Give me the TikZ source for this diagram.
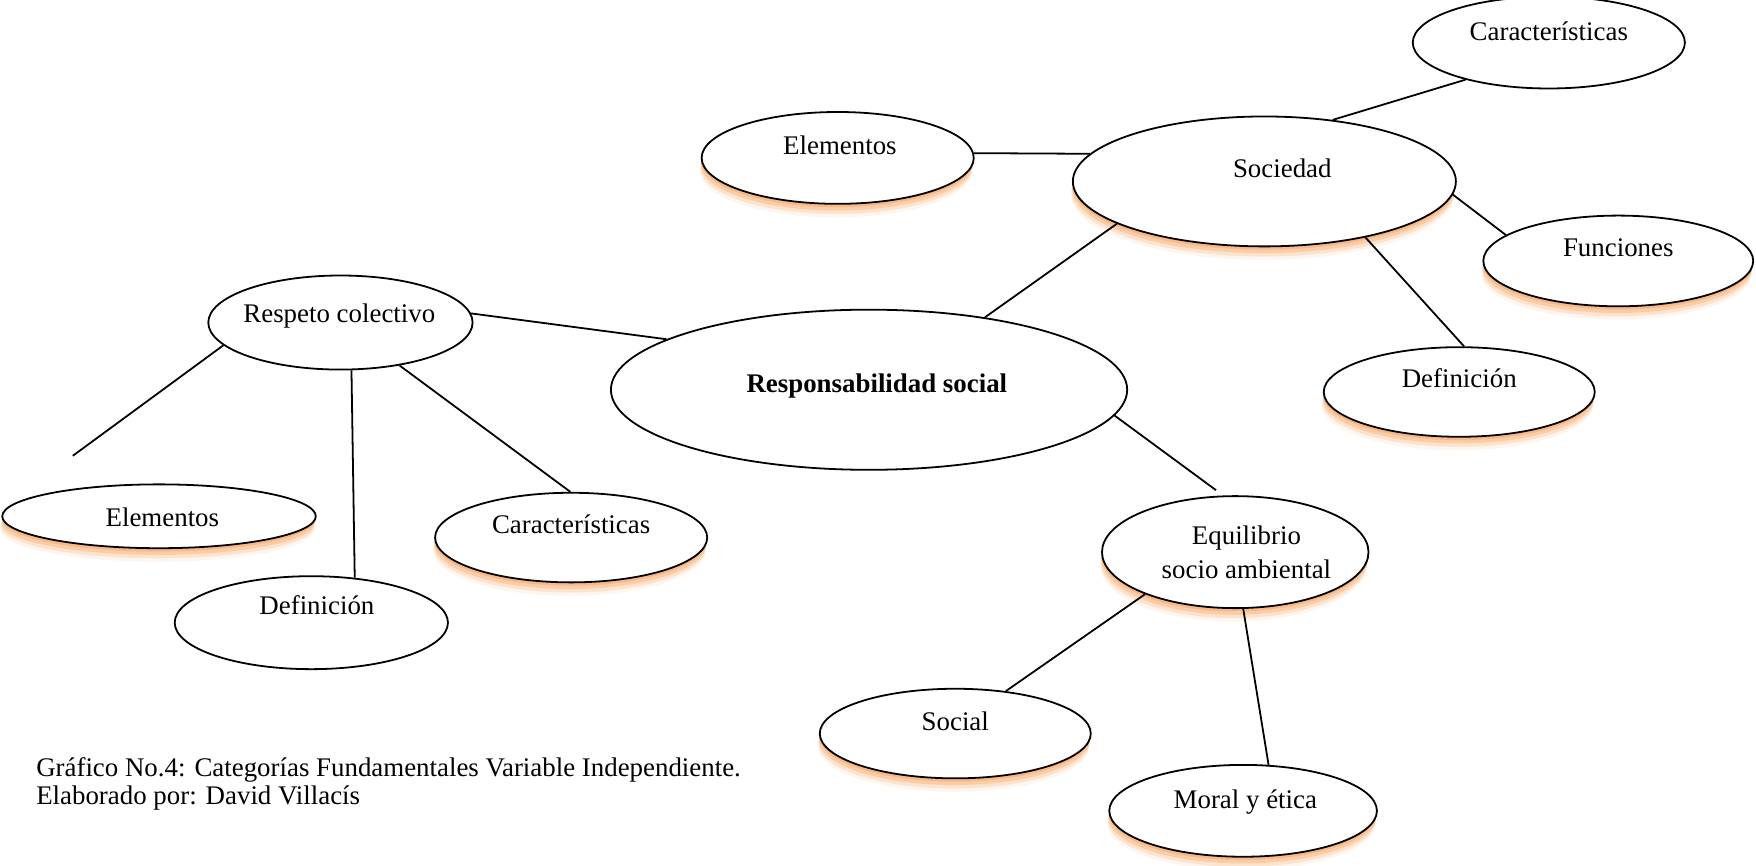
\documentclass[tikz,border=0pt]{standalone}
\usepackage{fontspec}
\setmainfont{Liberation Serif}
\usetikzlibrary{shapes.geometric,shadows}
\definecolor{naranja}{RGB}{247,172,112}
\tikzset{burbuja/.style={ellipse,draw,fill=white,line width=0.8pt,inner sep=0pt},
         sombra/.style={drop shadow={shadow xshift=-0.8pt,shadow yshift=-6pt,fill=naranja,opacity=.12},
                        drop shadow={shadow xshift=-0.6pt,shadow yshift=-4.5pt,fill=naranja,opacity=.25},
                        drop shadow={shadow xshift=-0.4pt,shadow yshift=-3pt,fill=naranja,opacity=.4},
                        drop shadow={shadow xshift=-0.2pt,shadow yshift=-1.5pt,fill=naranja,opacity=.6}},
         texto/.style={inner sep=0pt,align=center},
         enlace/.style={line width=0.8pt}}

\begin{document}
\begin{tikzpicture}[x=0.5pt,y=-0.5pt,font=\fontsize{12}{15}\selectfont]
                      \useasboundingbox (0,0) rectangle (1568,773);
                      % centro
                      \node[burbuja,minimum width=230.5pt,minimum height=71.5pt] (rs) at (776,348) {};
                      \node[texto,font=\fontsize{12}{15}\selectfont\bfseries] (rsTxt) at (783,345) {Responsabilidad social};
                      % sociedad
                      \node[burbuja,sombra,minimum width=171pt,minimum height=58pt] (soc) at (1129,162) {};
                      \node[texto] (socTxt) at (1145,150) {Sociedad};
                      \node[burbuja,minimum width=121.5pt,minimum height=41pt] (socCar) at (1383,38) {};
                      \node[texto] (socCarTxt) at (1383,28) {Características};
                      \node[burbuja,sombra,minimum width=121.5pt,minimum height=41pt] (socElem) at (748,141) {};
                      \node[texto] (socElemTxt) at (750,130) {Elementos};
                      \node[burbuja,sombra,minimum width=120.5pt,minimum height=40.5pt] (socFun) at (1445,233) {};
                      \node[texto] (socFunTxt) at (1445,221) {Funciones};
                      \node[burbuja,sombra,minimum width=121pt,minimum height=40pt] (socDef) at (1303,350) {};
                      \node[texto] (socDefTxt) at (1303,338) {Definición};
                      % respeto colectivo
                      \node[burbuja,minimum width=118pt,minimum height=42pt] (resp) at (304,288) {};
                      \node[texto] (respTxt) at (303,282) {Respeto colectivo};
                      \node[burbuja,sombra,minimum width=140pt,minimum height=28.5pt] (respElem) at (142,461) {};
                      \node[texto] (respElemTxt) at (145,462) {Elementos};
                      \node[burbuja,minimum width=122pt,minimum height=41.5pt] (respDef) at (278,556) {};
                      \node[texto] (respDefTxt) at (283,540) {Definición};
                      \node[burbuja,sombra,minimum width=121.5pt,minimum height=40pt] (respCar) at (510,480) {};
                      \node[texto] (respCarTxt) at (510,468) {Características};
                      \coordinate (respLibre) at (65,407);
                      % equilibrio
                      \node[burbuja,sombra,minimum width=119pt,minimum height=50pt] (eq) at (1103,493) {};
                      \node[texto] (eqTxt) at (1113,493) {Equilibrio\\socio ambiental};
                      \node[burbuja,sombra,minimum width=121pt,minimum height=40pt] (eqSoc) at (853,655) {};
                      \node[texto] (eqSocTxt) at (853,644) {Social};
                      \node[burbuja,sombra,minimum width=119.5pt,minimum height=41pt] (eqMor) at (1110,724) {};
                      \node[texto] (eqMorTxt) at (1112,716) {Moral y ética};
                      % lineas
                      \draw[enlace] (socCar.204) -- (soc.42);
                      \draw[enlace] (socElem.2) -- (soc.171);
                      \draw[enlace] (soc.-4) -- (socFun.167);
                      \draw[enlace] (soc.-29) -- (socDef.84);
                      \draw[enlace] (soc.196) -- (rs.32);
                      \draw[enlace,shorten >=4pt] (rs.-6) -- (eq.102);
                      \draw[enlace] (resp.4) -- (rs.166);
                      \draw[enlace] (resp.191) -- (respLibre);
                      \draw[enlace] (resp.-77) -- (respDef.46);
                      \draw[enlace] (resp.-36) -- (respCar.91);
                      \draw[enlace] (eq.205) -- (eqSoc.40);
                      \draw[enlace] (eq.-82) -- (eqMor.61);
                      % pie
                      \node[texto,anchor=west,align=left,font=\fontsize{12}{12.5}\selectfont] (pie) at (32,700)
                        {Gráfico No.4: Categorías Fundamentales Variable Independiente.\\Elaborado por: David Villacís};
                  \end{tikzpicture}
\end{document}
